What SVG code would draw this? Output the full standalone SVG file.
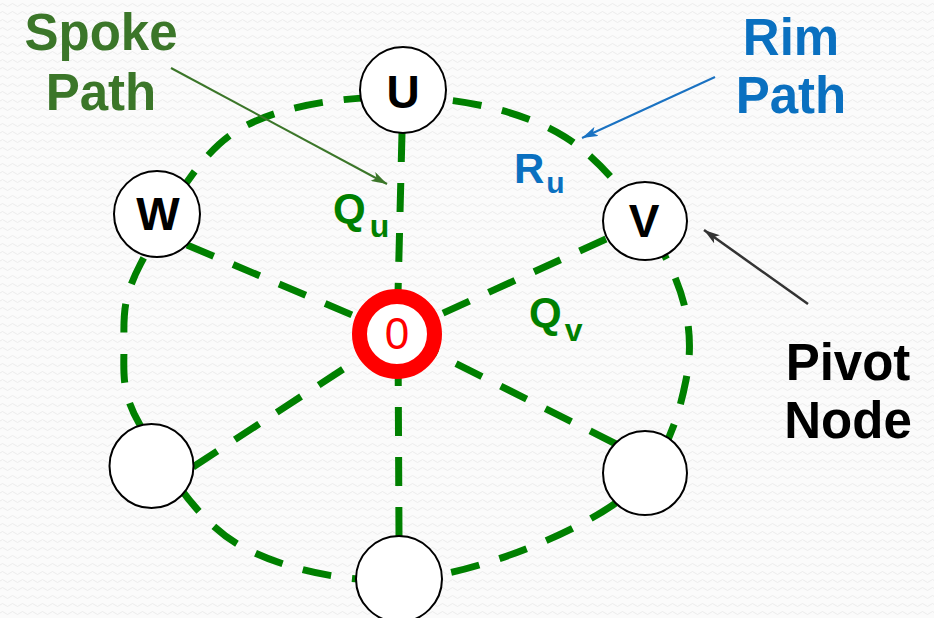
<svg xmlns="http://www.w3.org/2000/svg" width="934" height="618" viewBox="0 0 934 618">
  <defs>
    <pattern id="bg" width="10" height="8" patternUnits="userSpaceOnUse">
      <rect width="10" height="8" fill="#fbfbfb"/>
      <path d="M0 5 Q2.5 2 5 5 T10 5" fill="none" stroke="#ececec" stroke-width="1"/>
    </pattern>
    <marker id="ahGreen" markerUnits="userSpaceOnUse" markerWidth="16" markerHeight="10" refX="16" refY="5" orient="auto">
      <path d="M0,0 L16,5 L0,10 L4,5 z" fill="#3b7629"/>
    </marker>
    <marker id="ahBlue" markerUnits="userSpaceOnUse" markerWidth="16" markerHeight="10" refX="16" refY="5" orient="auto">
      <path d="M0,0 L16,5 L0,10 L4,5 z" fill="#1a72c2"/>
    </marker>
    <marker id="ahGray" markerUnits="userSpaceOnUse" markerWidth="16" markerHeight="10" refX="16" refY="5" orient="auto">
      <path d="M0,0 L16,5 L0,10 L4,5 z" fill="#333333"/>
    </marker>
  </defs>
  <style>
    .dash { fill: none; stroke: #008000; stroke-width: 7; stroke-dasharray: 29 21; }
    .node { fill: #ffffff; stroke: #000000; stroke-width: 2; }
    .nlabel { font-family: "Liberation Sans", Arial, sans-serif; font-weight: bold; font-size: 46px; fill: #000000; text-anchor: middle; }
    .big { font-family: "Liberation Sans", Arial, sans-serif; font-weight: bold; font-size: 51px; text-anchor: middle; }
    .sub { font-family: "Liberation Sans", Arial, sans-serif; font-weight: bold; font-size: 42px; }
  </style>

  <rect width="934" height="618" fill="url(#bg)"/>

  <g id="connectors">
    <path id="rim" class="dash" d="M403,97 C458,97.8 520.8,109.5 565,137 C609.2,164.5 647.8,221.5 668,262 C688.2,302.5 694,340.3 686,380 C678,419.7 664.3,467 620,500 C575.7,533 483.2,570.3 420,578 C356.8,585.7 287.7,571.5 241,546 C194.3,520.5 159.5,458.5 140,425 C120.5,391.5 124,371.7 124,345 C124,318.3 121.5,300.5 140,265 C158.5,229.5 191.2,160 235,132 C278.8,104 348,96.2 403,97 Z"/>
    <line class="dash" x1="402" y1="133" x2="397" y2="334"/>
    <line class="dash" x1="606" y1="239" x2="397" y2="334"/>
    <line class="dash" x1="187" y1="245" x2="397" y2="334"/>
    <line class="dash" x1="193" y1="467" x2="397" y2="334"/>
    <line class="dash" x1="616" y1="444" x2="397" y2="334"/>
    <line class="dash" x1="399" y1="536" x2="398" y2="334"/>
    <line id="spoke-arrow" x1="171" y1="68" x2="387" y2="184" stroke="#3b7629" stroke-width="2" marker-end="url(#ahGreen)"/>
    <line id="rim-arrow" x1="715" y1="77" x2="582" y2="138" stroke="#1a72c2" stroke-width="2" marker-end="url(#ahBlue)"/>
    <line id="pivot-arrow" x1="808" y1="304" x2="704" y2="230" stroke="#333333" stroke-width="2.5" marker-end="url(#ahGray)"/>
  </g>

  <g id="node-U">
    <circle class="node" cx="403" cy="90" r="43"/>
    <text class="nlabel" x="403" y="108">U</text>
  </g>
  <g id="node-V">
    <ellipse class="node" cx="645" cy="221" rx="42" ry="39"/>
    <text class="nlabel" x="644" y="237">V</text>
  </g>
  <g id="node-W">
    <circle class="node" cx="157" cy="214" r="43"/>
    <text class="nlabel" x="158" y="230">W</text>
  </g>
  <g id="node-BL">
    <circle class="node" cx="151.5" cy="466" r="42"/>
  </g>
  <g id="node-B">
    <circle class="node" cx="399" cy="579" r="43"/>
  </g>
  <g id="node-BR">
    <circle class="node" cx="645" cy="473" r="42"/>
  </g>
  <g id="node-0">
    <circle cx="397" cy="334" r="37.5" fill="#ffffff" stroke="#ff0000" stroke-width="15"/>
    <text x="397" y="349" font-family="Liberation Sans, Arial, sans-serif" font-size="44" fill="#ff0000" text-anchor="middle">0</text>
  </g>

  <g id="labels">
    <text class="big" x="101" y="50" fill="#3b7629">Spoke</text>
    <text class="big" x="101" y="110" fill="#3b7629">Path</text>
    <text class="big" x="791" y="55" fill="#0a70c0">Rim</text>
    <text class="big" x="791" y="113" fill="#0a70c0">Path</text>
    <text class="big" x="848" y="380" fill="#000000">Pivot</text>
    <text class="big" x="848" y="438" fill="#000000">Node</text>
    <text class="sub" x="514" y="183" fill="#0a70c0">R<tspan font-size="30" dx="2" dy="10">u</tspan></text>
    <text class="sub" x="333" y="223" fill="#008000">Q<tspan font-size="32" dx="4" dy="14">u</tspan></text>
    <text class="sub" x="529" y="327" fill="#008000">Q<tspan font-size="32" dx="3" dy="14">v</tspan></text>
  </g>
</svg>
